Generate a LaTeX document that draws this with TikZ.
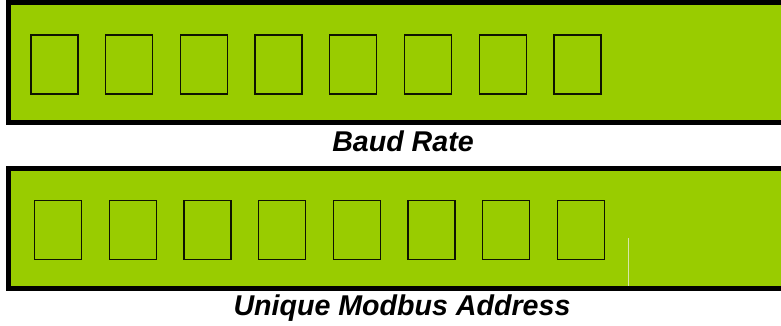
\documentclass[tikz,border=0pt]{standalone}
\usepackage{fontspec}
\setmainfont{Liberation Sans}
\usepackage{xcolor}
\usetikzlibrary{positioning}
\definecolor{lcdcolor}{RGB}{153,204,0}
\definecolor{glintcolor}{RGB}{215,230,170}

\begin{document}
\begin{tikzpicture}[
    x=1pt, y=-1pt,
    panel/.style={draw=black, line width=5pt, fill=lcdcolor, minimum width=781.5pt, minimum height=120pt, inner sep=0pt},
    cell/.style={draw=black!90!lcdcolor, line width=1.3pt, minimum width=47pt, minimum height=59pt, inner sep=0pt},
    caption/.style={font=\fontsize{28.6}{32}\selectfont\bfseries\itshape, anchor=base, inner sep=0pt}
]
    \clip (0,0) rectangle (781,326);

    % Baud rate display
    \node[panel] (baudpanel) at (399.25,62.5) {};
    \foreach \i in {1,...,8}
        \node[cell] (baud\i) at ({54.5+74.7*(\i-1)},64.5) {};
    \node[caption] (baudlabel) at (403,151) {Baud Rate};

    % Modbus address display
    \node[panel, minimum height=119.5pt] (addrpanel) at (399.25,228.25) {};
    \foreach \i in {1,...,8}
        \node[cell] (addr\i) at ({58+74.7*(\i-1)},230) {};
    \draw[glintcolor, line width=0.6pt] (628,238) -- (628,285.5);
    \node[caption] (addrlabel) at (402,315) {Unique Modbus Address};

\end{tikzpicture}
\end{document}
